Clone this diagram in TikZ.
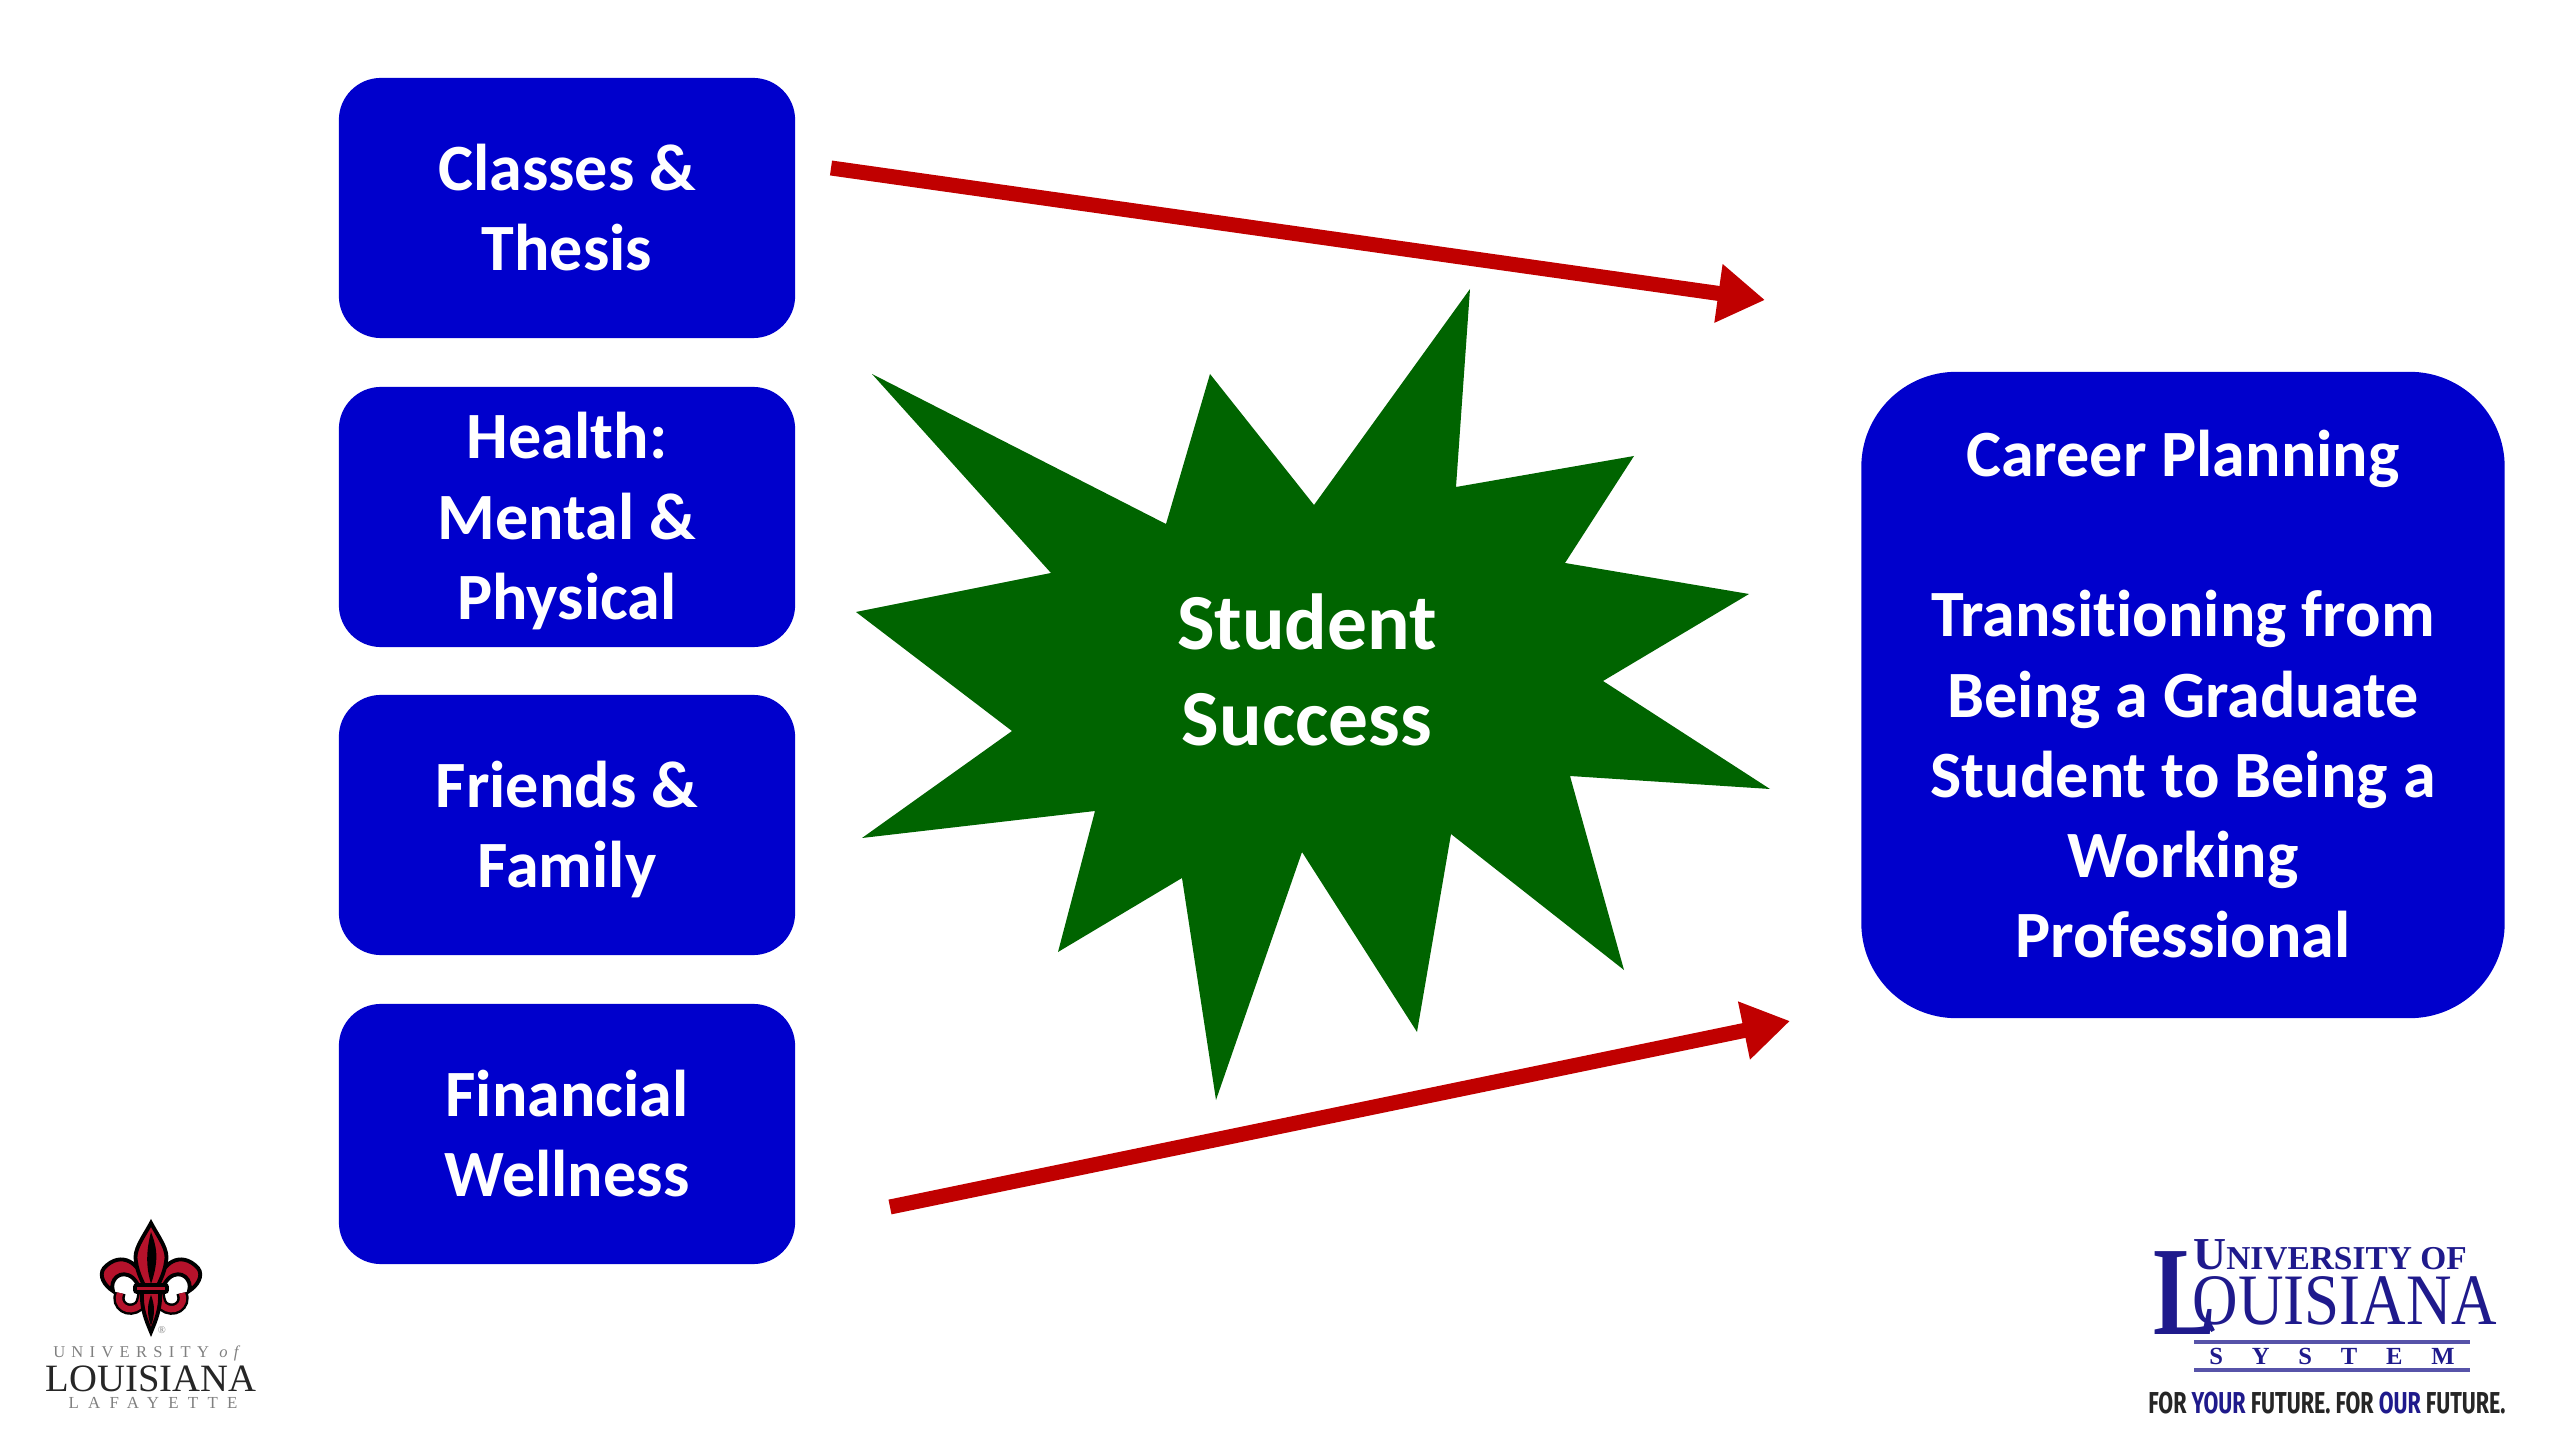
\documentclass[tikz,border=0pt]{standalone}
\usepackage{fontspec}
\setmainfont{Carlito}[Ligatures=CommonOff]
\newfontfamily\logoserif{Liberation Serif}
\newfontfamily\logowide[LetterSpace=38]{Liberation Serif}
\newfontfamily\logowider[LetterSpace=55]{Liberation Serif}
\newfontfamily\logosans{Fira Sans}
\usepackage{xcolor}
\usepackage{tikz}
\usetikzlibrary{arrows.meta}
\definecolor{boxblue}{HTML}{0000CC}
\definecolor{arrowred}{HTML}{C00000}
\definecolor{stargreen}{HTML}{006400}
\definecolor{logoblue}{HTML}{1F1A8C}
\definecolor{fleurred}{HTML}{B5122B}
\definecolor{logogray}{HTML}{808080}
\begin{document}
\begin{tikzpicture}[x=0.01cm,y=-0.01cm,
bluebox/.style={rectangle,fill=boxblue,text=white,font=\fontsize{18.8}{22.8}\selectfont\bfseries,align=center,minimum width=4.56cm,minimum height=2.6cm,rounded corners=.42cm,inner sep=0,text depth=.6pt},
redarrow/.style={-{Triangle[length=.47cm,width=.56cm]},arrowred,line width=.15cm},
logotext/.style={inner sep=0,align=center},
petal/.style={fill=fleurred,draw=black,line width=1.1pt}]
\useasboundingbox (0,0) rectangle (2560,1440);
\node[bluebox] (classes) at (567,208) {Classes \&\\Thesis};
\node[bluebox] (health) at (567,517) {Health:\\Mental \&\\Physical};
\node[bluebox] (friends) at (567,825) {Friends \&\\Family};
\node[bluebox] (financial) at (567,1134) {Financial\\Wellness};
\node[bluebox,minimum width=6.43cm,minimum height=6.46cm,rounded corners=.95cm] (career) at (2183,695) {Career Planning\\[22.8pt]Transitioning from\\Being a Graduate\\Student to Being a\\Working\\Professional};
\fill[stargreen](1470,289)--(1456,487)--(1634,456)--(1565,563)--(1749,594)--(1603,681)--(1770,789)--(1570,776)--(1624,970)--(1451,834)--(1417,1032)--(1302,852)--(1216,1100)--(1182,878)--(1058,952)--(1095,811)--(862,838)--(1012,731)--(856,612)--(1051,573)--(872,374)--(1166,524)--(1210,374)--(1314,505)--cycle;
\node[logotext,text=white,font=\fontsize{22.6}{27.3}\selectfont\bfseries] (success) at (1307,670) {Student\\Success};
\coordinate (topstart) at (831,168);
\coordinate (topend) at (1765,300);
\coordinate (lowstart) at (890,1207);
\coordinate (lowend) at (1790,1021);
\draw[redarrow](topstart)--(topend);
\draw[redarrow](lowstart)--(lowend);
\foreach \sx in {1,-1}{
\begin{scope}[shift={(151,0)},xscale=\sx]
\path[petal](-5,1288) .. controls (-10,1262) and (-30,1250) .. (-47,1268) .. controls (-53,1276) and (-46,1286) .. (-38,1291) .. controls (-42,1280) and (-30,1268) .. (-18,1278) .. controls (-14,1282) and (-13,1285) .. (-12,1288)--cycle;
\draw[black,line width=3.2pt](-31,1293) .. controls (-36,1306) and (-22,1314) .. (-12,1306) .. controls (-9,1302) and (-8,1296) .. (-8,1290);
\draw[fleurred,line width=1.8pt](-31,1293) .. controls (-36,1306) and (-22,1314) .. (-12,1306) .. controls (-9,1302) and (-8,1296) .. (-8,1290);
\end{scope}}
\path[petal](151,1223) .. controls (143,1238) and (133,1250) .. (136,1262) .. controls (138,1275) and (143,1282) .. (145,1288)--(157,1288) .. controls (159,1282) and (164,1275) .. (166,1262) .. controls (169,1250) and (159,1238) .. (151,1223)--cycle;
\fill[black](151,1232) .. controls (156,1245) and (160,1258) .. (151,1284) .. controls (147,1270) and (145,1255) .. (151,1232)--cycle;
\path[petal](142,1292) .. controls (141,1308) and (146,1320) .. (151,1332) .. controls (156,1320) and (161,1308) .. (160,1292)--cycle;
\fill[black](151,1295) .. controls (155,1305) and (155,1315) .. (151,1326) .. controls (147,1315) and (147,1305) .. (151,1295)--cycle;
\path[petal,rounded corners=.02cm](135,1285) rectangle (167,1292);
\node[logotext,text=logogray,font=\logoserif\fontsize{3}{3}\selectfont] (fleurmark) at (162,1330) {®};
\node[logotext,text=logogray,font=\logowide\fontsize{4.7}{5}\selectfont] (ullone) at (150,1353) {UNIVERSITY \textit{of}};
\node[logotext,text=black!85,font=\logoserif\fontsize{11}{11}\selectfont] (ulltwo) at (151,1379) {LOUISIANA};
\node[logotext,text=logogray,font=\logowider\fontsize{4.8}{5}\selectfont] (ullthree) at (153,1403) {LAFAYETTE};
\node[logotext,text=logoblue,xscale=.74,font=\logoserif\bfseries\fontsize{36}{36}\selectfont] (systeml) at (2185,1293) {L};
\node[logotext,text=logoblue,font=\logoserif\bfseries] (systemone) at (2330,1255) {\fontsize{13}{13}\selectfont U\fontsize{9.5}{13}\selectfont NIVERSITY OF};
\node[logotext,text=logoblue,xscale=.87,font=\logoserif\fontsize{20.6}{21}\selectfont] (systemtwo) at (2345,1301) {OUISIANA};
\coordinate (tailtop) at (2206,1318);
\coordinate (tailend) at (2213,1331);
\draw[logoblue,line width=1.2pt](tailtop)--(tailend);
\coordinate (ruleoneleft) at (2194,1342);
\coordinate (ruleoneright) at (2470,1342);
\coordinate (ruletwoleft) at (2194,1370);
\coordinate (ruletworight) at (2470,1370);
\draw[logoblue!75,line width=1.1pt](ruleoneleft)--(ruleoneright);
\draw[logoblue!75,line width=1.1pt](ruletwoleft)--(ruletworight);
\node[logotext,text=logoblue,font=\logoserif\bfseries\fontsize{7}{7}\selectfont] (systemthree) at (2332,1356) {S\hspace{1.17em}Y\hspace{1.17em}S\hspace{1.17em}T\hspace{1.17em}E\hspace{1.17em}M};
\node[logotext,xscale=.71,text=black!85,font=\logosans\bfseries\fontsize{8.6}{9}\selectfont] (slogan) at (2327,1403) {FOR \textcolor{logoblue}{YOUR} FUTURE. FOR \textcolor{logoblue}{OUR} FUTURE.};
\end{tikzpicture}
\end{document}
